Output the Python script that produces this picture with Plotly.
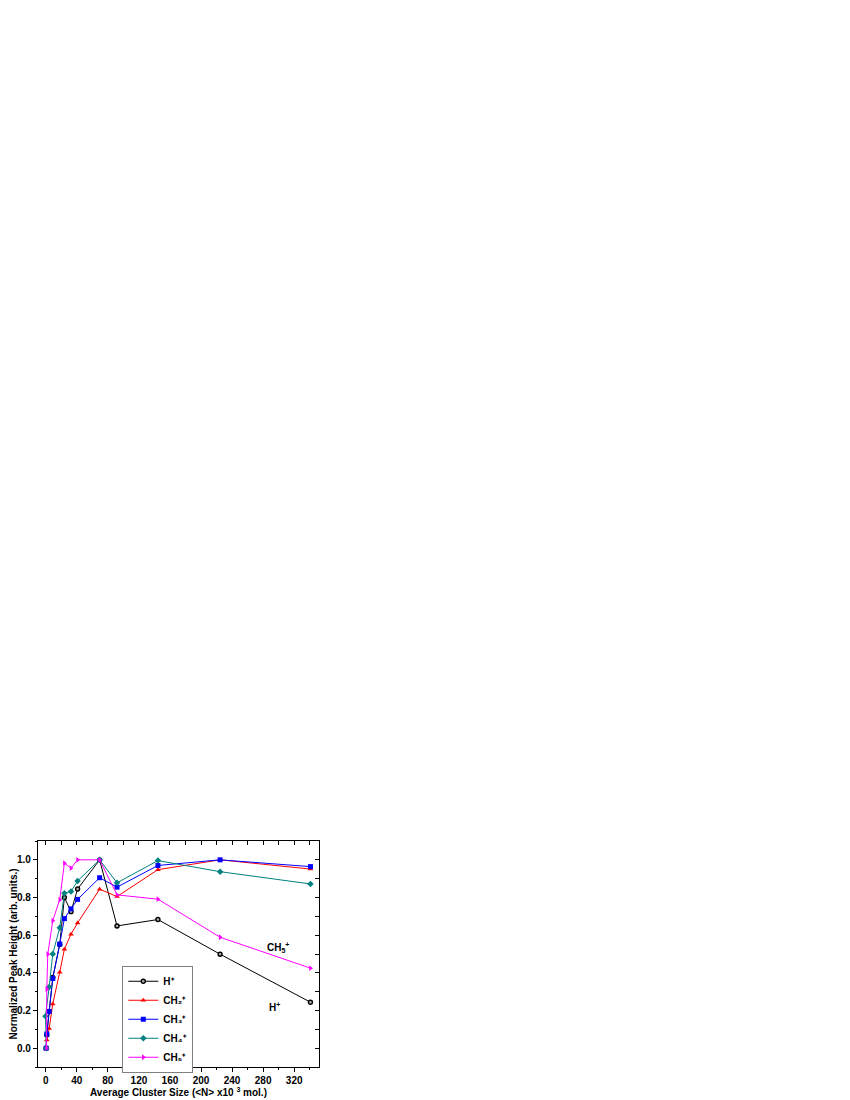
import plotly.graph_objects as go

# cluster size (<N> x10^3 mol.) for each ion
x_grid = [0.5, 1.3, 4.4, 9, 18, 24, 32.5, 41, 69.4, 91.8, 144.5, 224.6, 341]
x_ch4 = [0.8, -0.4, 4.4, 9, 18, 24, 32.5, 41, 69.4, 91.8, 144.5, 224.6, 341]
x_ch5 = [1.0, 1.3, 2.6, 9, 18, 24, 32.5, 41, 69.4, 91.8, 144.5, 224.6, 341]

h_plus = [0.0, 0.07, 0.195, 0.375, 0.55, 0.80, 0.725, 0.845, 1.0, 0.649, 0.683, 0.499, 0.244]
ch2_plus = [0.0, 0.044, 0.104, 0.235, 0.403, 0.525, 0.605, 0.665, 0.844, 0.805, 0.948, 1.0, 0.951]
ch3_plus = [0.0, 0.075, 0.195, 0.37, 0.553, 0.688, 0.74, 0.79, 0.905, 0.855, 0.97, 1.0, 0.964]
ch4_plus = [0.0, 0.17, 0.325, 0.50, 0.64, 0.823, 0.832, 0.888, 1.0, 0.878, 0.996, 0.937, 0.872]
ch5_plus = [0.0, 0.313, 0.499, 0.677, 0.788, 0.982, 0.956, 1.0, 1.0, 0.814, 0.791, 0.589, 0.425]

series = [
    ("<b>H⁺</b>", x_grid, h_plus, "black", "circle", "#b0b0b0"),
    ("<b>CH₂⁺</b>", x_grid, ch2_plus, "#ff0000", "triangle-up", None),
    ("<b>CH₃⁺</b>", x_grid, ch3_plus, "#0000ff", "square", None),
    ("<b>CH₄⁺</b>", x_ch4, ch4_plus, "#008080", "diamond", None),
    ("<b>CH₅⁺</b>", x_ch5, ch5_plus, "#ff00ff", "triangle-right", None),
]

FONT = "Liberation Sans, Arial, sans-serif"
X_RANGE = [-10, 352]
Y_RANGE = [-0.1, 1.1]

fig = go.Figure()
for name, xs, ys, color, symbol, fill in series:
    fig.add_trace(go.Scatter(
        x=xs, y=ys, name=name, mode="lines+markers",
        line=dict(color=color, width=1),
        marker=dict(symbol=symbol, size=4 if fill else 5, color=fill or color,
                    line=dict(color=color, width=1.4 if fill else 0)),
    ))

# invisible trace so the mirrored (inside-tick) axes get drawn
fig.add_trace(go.Scatter(x=[0], y=[0], xaxis="x2", yaxis="y2", mode="markers",
                         marker=dict(opacity=0), showlegend=False, hoverinfo="skip"))

fig.add_annotation(x=299, y=0.535, text="<b>CH<sub>5</sub><sup>+</sup></b>", showarrow=False,
                   font=dict(family=FONT, size=10, color="black"))
fig.add_annotation(x=295, y=0.216, text="<b>H<sup>+</sup></b>", showarrow=False,
                   font=dict(family=FONT, size=10, color="black"))

axis_common = dict(showgrid=False, zeroline=False, showline=True, linecolor="black",
                   linewidth=1.3, tickcolor="black", tickwidth=1, automargin=False)

# page body has an 8px margin, so the figure is shifted by 8px
fig.update_layout(
    width=842, height=1092,
    margin=dict(l=30, r=531, t=833, b=33),
    paper_bgcolor="white", plot_bgcolor="white",
    font=dict(family=FONT, size=10, color="black"),
    showlegend=True,
    legend=dict(x=0.30, y=0.448, xanchor="left", yanchor="top",
                bordercolor="#808080", borderwidth=1, bgcolor="white",
                font=dict(family=FONT, size=10, color="black"),
                itemwidth=30, tracegroupgap=0),
    xaxis=dict(**axis_common, range=X_RANGE, tickmode="array",
               tickvals=[0, 40, 80, 120, 160, 200, 240, 280, 320],
               ticks="outside", ticklen=4,
               minor=dict(tickvals=[20, 60, 100, 140, 180, 220, 260, 300, 340],
                          ticks="outside", ticklen=2, tickcolor="black"),
               tickfont=dict(family=FONT, size=10, weight="bold"),
               title=dict(text="<b>Average Cluster Size (&lt;N&gt; x10 <sup>3</sup> mol.)</b>",
                          font=dict(family=FONT, size=10), standoff=2)),
    yaxis=dict(**axis_common, range=Y_RANGE, tickmode="array",
               tickvals=[0.0, 0.2, 0.4, 0.6, 0.8, 1.0],
               ticktext=["0.0", "0.2", "0.4", "0.6", "0.8", "1.0"],
               ticks="outside", ticklen=4,
               minor=dict(tickvals=[-0.1, 0.1, 0.3, 0.5, 0.7, 0.9, 1.1],
                          ticks="outside", ticklen=2, tickcolor="black"),
               tickfont=dict(family=FONT, size=10, weight="bold"),
               title=dict(text="<b>Normalized Peak Height (arb. units.)</b>",
                          font=dict(family=FONT, size=10), standoff=4)),
    xaxis2=dict(**axis_common, overlaying="x", side="top", range=X_RANGE,
                tickmode="array", tickvals=list(range(0, 360, 20)),
                ticks="inside", ticklen=4, showticklabels=False),
    yaxis2=dict(**axis_common, overlaying="y", side="right", range=Y_RANGE,
                tickmode="array", tickvals=[i / 10 for i in range(0, 11)],
                ticks="inside", ticklen=4, showticklabels=False),
)

fig.write_html("out.html")
